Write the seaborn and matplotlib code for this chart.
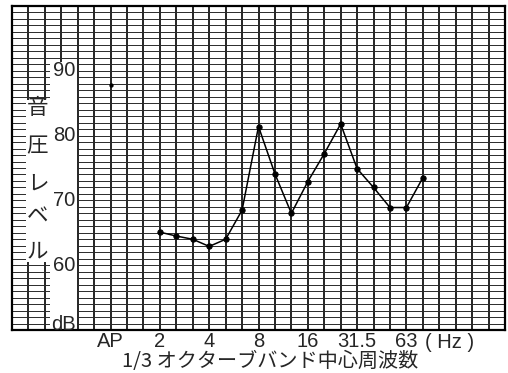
import matplotlib
matplotlib.use('Agg')
import matplotlib.pyplot as plt
import seaborn as sns
import pandas as pd
from matplotlib.patches import Rectangle

# ---- data ----
bands = ['2', '2.5', '3.15', '4', '5', '6.3', '8', '10', '12.5', '16',
         '20', '25', '31.5', '40', '50', '63', '80']
levels = [65.1, 64.5, 64.0, 62.9, 64.0, 68.5, 81.4, 74.1, 68.0, 72.9,
          77.2, 81.8, 74.9, 72.0, 68.9, 68.9, 73.5]
ap_band = 'AP'
ap_level = 87.8
tick_bands = ['AP', '2', '4', '8', '16', '31.5', '63']
y_tick_values = [50, 60, 70, 80, 90]
y_tick_labels = ['dB', '60', '70', '80', '90']
ylabel_chars = ['音', '圧', 'レ', 'ベ', 'ル']
xlabel_text = '1/3 オクターブバンド中心周波数'
unit_text = '( Hz )'

# full 1/3-octave grid of the chart paper (AP sits at the 1 Hz slot)
band_axis = ['0.25', '0.315', '0.4', '0.5', '0.63', '0.8', 'AP', '1.25', '1.6',
             '2', '2.5', '3.15', '4', '5', '6.3', '8', '10', '12.5', '16', '20',
             '25', '31.5', '40', '50', '63', '80', '100', '125', '160', '200', '250']
OFF = band_axis.index('AP')


def pos(b):
    return band_axis.index(b) - OFF


sns.set_style('white')
plt.rcParams['font.family'] = ['Liberation Sans Narrow', 'Liberation Sans', 'DejaVu Sans']
CJK = ['Noto Sans CJK JP', 'DejaVu Sans']
FS = 14.5

W, H = 508, 373
fig = plt.figure(figsize=(W / 100, H / 100), dpi=100)
L, R, T, B = 12, 505, 6, 330
ax = fig.add_axes([L / W, 1 - B / H, (R - L) / W, (B - T) / H])

xmin, xmax = pos(band_axis[0]), pos(band_axis[-1])
ax.set_xlim(xmin, xmax)
ax.set_ylim(50, 100)

# chart-paper grid
ax.set_xticks(range(xmin, xmax + 1), minor=True)
ax.set_yticks(range(50, 101), minor=True)
ax.set_yticks([])
ax.set_xticks([pos(b) for b in tick_bands])
ax.set_xticklabels(tick_bands, fontsize=FS)
ax.tick_params(axis='both', which='both', length=0)
ax.tick_params(axis='x', pad=1.5)
ax.xaxis.grid(True, which='both', color='black', lw=1.2, zorder=0)
ax.yaxis.grid(True, which='minor', color='#2a2a2a', lw=0.7, zorder=0)
ax.set_axisbelow(True)
for s in ax.spines.values():
    s.set_linewidth(1.6)
    s.set_color('black')

# white label areas cut out of the paper
ax.add_patch(Rectangle((-3.69, 50), 1.64, 41.3, facecolor='white', edgecolor='none', zorder=1))
ax.add_patch(Rectangle((-5.15, 60.5), 1.5, 25.0, facecolor='white', edgecolor='none', zorder=1))

# y labels
for v, t in zip(y_tick_values, y_tick_labels):
    yy = v + (0.9 if t == 'dB' else 0)
    ax.text(-2.15, yy, t, ha='right', va='center', fontsize=FS, zorder=3)
for c, yy in zip(ylabel_chars, [84.3, 78.3, 72.6, 67.5, 62.1]):
    ax.text(-4.45, yy, c, ha='center', va='center', fontsize=15.5, family=CJK, zorder=3)

# data
df = pd.DataFrame({'band': [pos(b) for b in bands], 'level': levels})
sns.lineplot(data=df, x='band', y='level', ax=ax, color='black', lw=1.1,
             marker='o', markersize=3.8, markeredgecolor='black', zorder=5)
sns.scatterplot(x=[pos(ap_band)], y=[ap_level], ax=ax, color='black', s=8,
                edgecolor='black', zorder=5)
ax.set_xlabel('')
ax.set_ylabel('')

# units and axis title
ax.text(20.6, -0.008, unit_text, transform=ax.get_xaxis_transform(),
        ha='center', va='top', fontsize=FS)
fig.text(270 / W, 1 - 361.5 / H, xlabel_text, ha='center', va='center',
         fontsize=14.5, family=CJK)

fig.savefig('out.png', dpi=100)
